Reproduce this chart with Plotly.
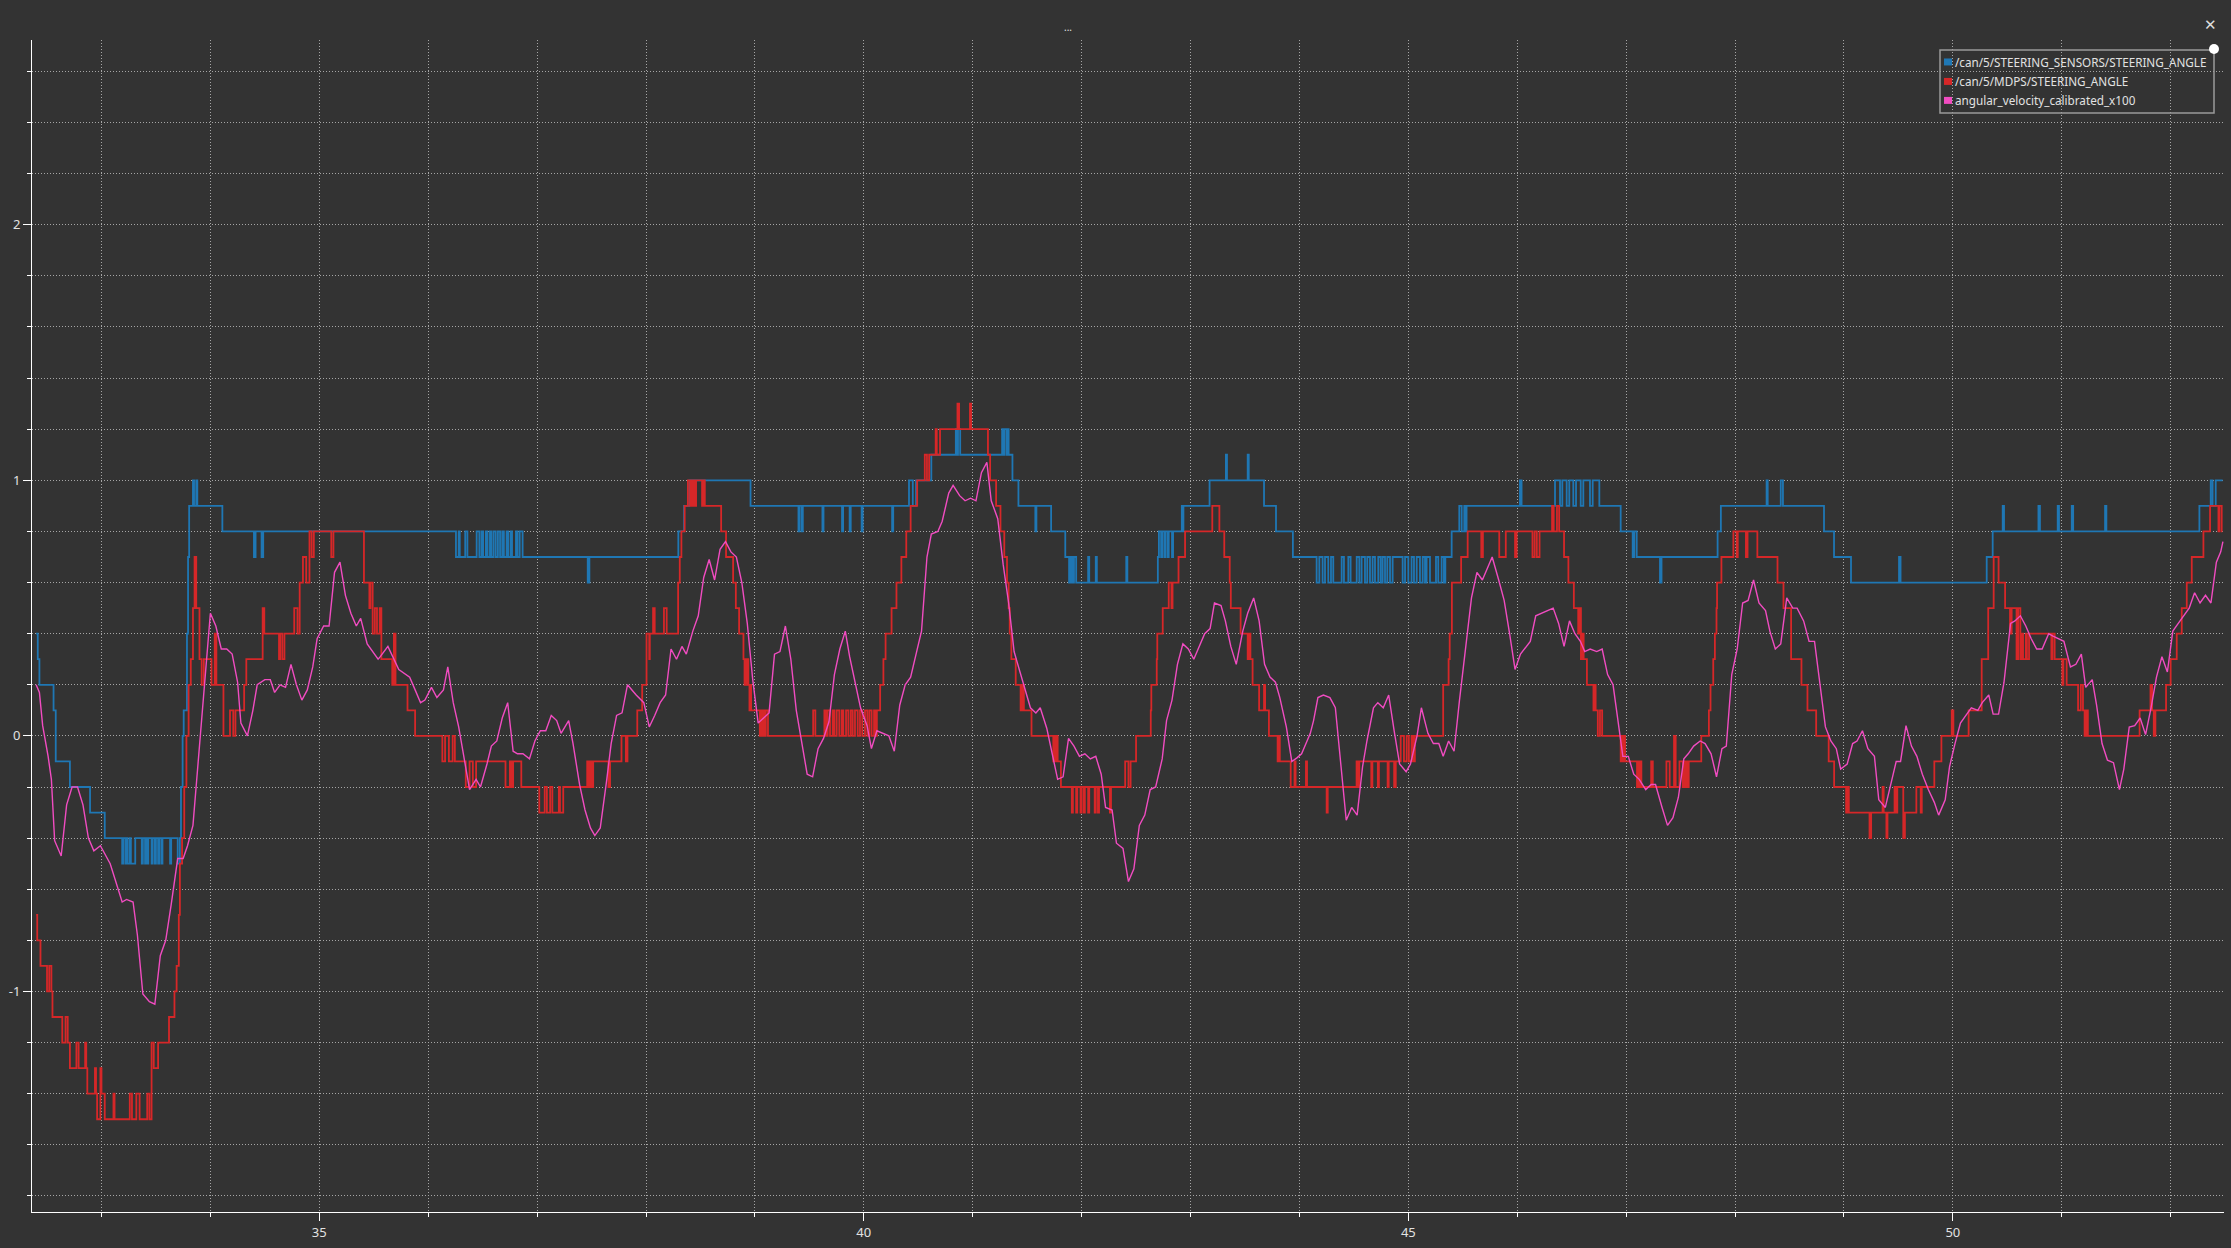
import plotly.graph_objects as go

# ---------------- data (time [s], value) ----------------
SERIES_NAMES = ["/can/5/STEERING_SENSORS/STEERING_ANGLE",
                "/can/5/MDPS/STEERING_ANGLE",
                "angular_velocity_calibrated_x100"]
SERIES_COLORS = ["#1f77b4", "#d62728", "#f14cc1"]

# step signal: (time of change, new value)
STEERING_SENSORS = [
    (32.40, 0.4), (32.415, 0.3), (32.43, 0.2), (32.56, 0.1), (32.58, -0.1), (32.71, -0.2), (32.895, -0.3), (33.03, -0.4),
    (33.19, -0.5), (33.20, -0.4), (33.22, -0.5), (33.23, -0.4), (33.24, -0.5), (33.26, -0.4), (33.27, -0.5), (33.31, -0.4),
    (33.37, -0.5), (33.38, -0.4), (33.40, -0.5), (33.41, -0.4), (33.42, -0.5), (33.43, -0.4), (33.46, -0.5), (33.47, -0.4),
    (33.49, -0.5), (33.50, -0.4), (33.52, -0.5), (33.53, -0.4), (33.55, -0.5), (33.56, -0.4), (33.63, -0.5), (33.64, -0.4),
    (33.70, -0.5), (33.72, -0.4), (33.73, -0.2), (33.745, 0.0), (33.755, 0.1), (33.785, 0.4), (33.795, 0.7), (33.805, 0.9),
    (33.84, 1.0), (33.85, 0.9), (33.87, 1.0), (33.88, 0.9), (34.11, 0.8), (34.40, 0.7), (34.415, 0.8), (34.47, 0.7), (34.485, 0.8),
    (36.255, 0.7), (36.28, 0.8), (36.29, 0.7), (36.34, 0.8), (36.36, 0.7), (36.445, 0.8), (36.47, 0.7), (36.49, 0.8),
    (36.505, 0.7), (36.53, 0.8), (36.545, 0.7), (36.567, 0.8), (36.58, 0.7), (36.60, 0.8), (36.62, 0.7), (36.64, 0.8),
    (36.66, 0.7), (36.68, 0.8), (36.695, 0.7), (36.72, 0.8), (36.735, 0.7), (36.757, 0.8), (36.77, 0.7), (36.806, 0.8),
    (36.82, 0.7), (36.84, 0.8), (36.867, 0.7), (37.465, 0.6), (37.48, 0.7), (38.297, 0.8), (38.35, 0.9), (38.397, 1.0),
    (38.96, 0.9), (39.40, 0.8), (39.41, 0.9), (39.43, 0.8), (39.44, 0.9), (39.62, 0.8), (39.63, 0.9), (39.80, 0.8), (39.81, 0.9),
    (39.87, 0.8), (39.88, 0.9), (39.98, 0.8), (39.99, 0.9), (40.26, 0.8), (40.27, 0.9), (40.415, 1.0), (40.45, 0.9), (40.48, 1.0),
    (40.62, 1.1), (40.845, 1.2), (40.86, 1.1), (40.865, 1.2), (40.885, 1.1), (41.27, 1.2), (41.28, 1.1), (41.29, 1.2),
    (41.31, 1.1), (41.32, 1.2), (41.33, 1.1), (41.365, 1.0), (41.42, 0.9), (41.575, 0.8), (41.585, 0.9), (41.72, 0.8),
    (41.85, 0.7), (41.885, 0.6), (41.895, 0.7), (41.90, 0.6), (41.91, 0.7), (41.92, 0.6), (41.93, 0.7), (41.95, 0.6),
    (42.06, 0.7), (42.07, 0.6), (42.13, 0.7), (42.14, 0.6), (42.41, 0.7), (42.42, 0.6), (42.70, 0.7), (42.71, 0.8),
    (42.73, 0.7), (42.74, 0.8), (42.76, 0.7), (42.77, 0.8), (42.79, 0.7), (42.80, 0.8), (42.83, 0.7), (42.84, 0.8),
    (42.92, 0.9), (42.925, 0.8), (42.935, 0.9), (43.175, 1.0), (43.325, 1.1), (43.335, 1.0), (43.525, 1.1), (43.535, 1.0),
    (43.675, 0.9), (43.785, 0.8), (43.94, 0.7),
    (44.158, 0.6), (44.183, 0.7), (44.213, 0.6), (44.235, 0.7), (44.265, 0.6), (44.29, 0.7), (44.311, 0.6), (44.388, 0.7),
    (44.409, 0.6), (44.449, 0.7), (44.47, 0.6), (44.526, 0.7), (44.55, 0.6), (44.571, 0.7), (44.602, 0.6), (44.623, 0.7),
    (44.648, 0.6), (44.672, 0.7), (44.694, 0.6), (44.724, 0.7), (44.746, 0.6), (44.764, 0.7), (44.786, 0.6), (44.807, 0.7),
    (44.832, 0.6), (44.856, 0.7), (44.948, 0.6), (44.97, 0.7), (45.00, 0.6), (45.03, 0.7), (45.052, 0.6), (45.077, 0.7),
    (45.107, 0.6), (45.132, 0.7), (45.153, 0.6), (45.168, 0.7), (45.199, 0.6), (45.254, 0.7), (45.275, 0.6), (45.306, 0.7),
    (45.327, 0.6), (45.34, 0.7), (45.398, 0.8), (45.468, 0.9), (45.49, 0.8), (45.514, 0.9), (45.52, 0.8), (45.535, 0.9),
    (46.025, 1.0), (46.04, 0.9), (46.347, 1.0), (46.393, 0.9), (46.414, 1.0), (46.454, 0.9), (46.478, 1.0), (46.515, 0.9),
    (46.54, 1.0), (46.583, 0.9), (46.607, 1.0), (46.668, 0.9), (46.693, 1.0), (46.754, 0.9), (46.95, 0.8), (47.06, 0.7),
    (47.075, 0.8), (47.097, 0.7), (47.311, 0.6), (47.325, 0.7), (47.84, 0.8), (47.87, 0.9), (48.29, 1.0), (48.30, 0.9),
    (48.42, 1.0), (48.44, 0.9), (48.817, 0.8), (48.909, 0.7), (49.065, 0.6), (49.506, 0.7), (49.52, 0.6), (50.311, 0.7),
    (50.366, 0.8), (50.458, 0.9), (50.47, 0.8), (50.786, 0.9), (50.80, 0.8), (50.963, 0.9), (50.975, 0.8), (51.092, 0.9),
    (51.105, 0.8), (51.398, 0.9), (51.41, 0.8), (52.264, 0.9), (52.368, 1.0), (52.385, 0.9), (52.414, 1.0), (52.478, 1.0),
]

# step signal: (time of change, new value)
MDPS_STEERING = [
    (32.40, -0.7), (32.41, -0.8), (32.44, -0.9), (32.50, -1.0), (32.52, -0.9), (32.54, -1.0), (32.55, -1.1), (32.64, -1.2),
    (32.67, -1.1), (32.69, -1.2), (32.71, -1.3), (32.77, -1.2), (32.79, -1.3), (32.85, -1.2), (32.86, -1.3), (32.87, -1.4),
    (32.94, -1.3), (32.95, -1.4), (32.96, -1.5), (32.99, -1.3), (33.00, -1.4), (33.03, -1.5), (33.11, -1.4), (33.12, -1.5),
    (33.26, -1.4), (33.28, -1.5), (33.32, -1.4), (33.35, -1.5), (33.42, -1.4), (33.44, -1.5), (33.46, -1.2), (33.48, -1.3),
    (33.52, -1.2), (33.62, -1.1), (33.67, -1.0), (33.69, -0.9), (33.71, -0.7), (33.72, -0.5), (33.74, -0.4), (33.76, -0.2),
    (33.78, 0.0), (33.80, 0.2), (33.82, 0.3), (33.84, 0.5), (33.855, 0.7), (33.87, 0.5), (33.90, 0.3), (33.92, 0.2),
    (33.94, 0.3), (34.01, 0.2), (34.04, 0.4), (34.055, 0.2), (34.12, 0.0), (34.18, 0.1), (34.21, 0.0), (34.23, 0.1),
    (34.31, 0.2), (34.33, 0.3), (34.48, 0.5), (34.495, 0.4), (34.63, 0.3), (34.64, 0.4), (34.66, 0.3), (34.68, 0.4),
    (34.77, 0.5), (34.80, 0.4), (34.82, 0.6), (34.85, 0.7), (34.88, 0.6), (34.91, 0.8), (34.93, 0.7), (34.95, 0.8),
    (35.11, 0.7), (35.13, 0.8), (35.41, 0.6), (35.46, 0.5), (35.47, 0.6), (35.49, 0.4), (35.51, 0.5), (35.53, 0.4),
    (35.555, 0.5), (35.57, 0.3), (35.67, 0.2), (35.685, 0.4), (35.70, 0.2), (35.81, 0.1), (35.88, 0.0), (36.13, -0.1),
    (36.155, 0.0), (36.19, -0.1), (36.225, 0.0), (36.245, -0.1), (36.345, -0.2), (36.38, -0.1), (36.41, -0.2), (36.44, -0.1),
    (36.71, -0.2), (36.75, -0.1), (36.765, -0.2), (36.78, -0.1), (36.855, -0.2), (37.02, -0.3), (37.07, -0.2), (37.09, -0.3),
    (37.12, -0.2), (37.14, -0.3), (37.20, -0.2), (37.21, -0.3), (37.24, -0.2), (37.46, -0.1), (37.475, -0.2), (37.49, -0.1),
    (37.50, -0.2), (37.515, -0.1), (37.655, -0.2), (37.67, -0.1), (37.775, 0.0), (37.815, -0.1), (37.83, 0.0), (37.92, 0.1),
    (37.965, 0.2), (38.005, 0.4), (38.03, 0.3), (38.035, 0.4), (38.065, 0.5), (38.08, 0.4), (38.165, 0.5), (38.19, 0.4),
    (38.295, 0.6), (38.31, 0.7), (38.325, 0.8), (38.355, 0.9), (38.385, 1.0), (38.405, 0.9), (38.415, 1.0), (38.425, 0.9),
    (38.435, 1.0), (38.45, 0.9), (38.46, 1.0), (38.515, 0.9), (38.525, 1.0), (38.54, 0.9), (38.69, 0.8), (38.735, 0.7),
    (38.80, 0.6), (38.825, 0.5), (38.855, 0.4), (38.895, 0.3), (38.905, 0.2), (38.91, 0.3), (38.915, 0.2), (38.93, 0.3),
    (38.94, 0.2), (38.95, 0.1), (38.96, 0.2), (38.965, 0.1), (39.045, 0.0), (39.06, 0.1), (39.07, 0.0), (39.08, 0.1),
    (39.09, 0.0), (39.10, 0.1), (39.12, 0.0), (39.535, 0.1), (39.555, 0.0),
    (39.638, 0.1), (39.653, 0.0), (39.668, 0.1), (39.69, 0.0), (39.714, 0.1), (39.73, 0.0), (39.751, 0.1), (39.775, 0.0),
    (39.797, 0.1), (39.812, 0.0), (39.837, 0.1), (39.858, 0.0), (39.88, 0.1), (39.898, 0.0), (39.919, 0.1), (39.944, 0.0),
    (39.965, 0.1), (39.986, 0.0), (40.011, 0.1), (40.032, 0.0), (40.051, 0.1), (40.072, 0.0), (40.094, 0.1), (40.109, 0.0),
    (40.12, 0.1), (40.15, 0.2), (40.18, 0.3), (40.20, 0.4), (40.255, 0.5), (40.30, 0.6), (40.345, 0.7), (40.39, 0.8),
    (40.43, 0.9), (40.49, 1.0), (40.56, 1.1), (40.58, 1.0), (40.60, 1.1), (40.66, 1.2), (40.67, 1.1), (40.70, 1.2),
    (40.86, 1.3), (40.875, 1.2), (40.975, 1.3), (40.985, 1.2), (41.14, 1.1), (41.16, 1.0), (41.215, 0.9), (41.255, 0.8),
    (41.29, 0.7), (41.315, 0.6), (41.33, 0.5), (41.34, 0.4), (41.355, 0.3), (41.395, 0.2), (41.44, 0.1), (41.455, 0.2),
    (41.47, 0.1), (41.54, 0.0), (41.74, -0.1), (41.75, 0.0), (41.76, -0.1), (41.77, 0.0), (41.78, -0.1), (41.81, -0.2),
    (41.91, -0.3), (41.92, -0.2), (41.95, -0.3), (41.96, -0.2), (41.99, -0.3), (42.00, -0.2), (42.02, -0.3), (42.03, -0.2),
    (42.06, -0.3), (42.07, -0.2), (42.12, -0.3), (42.13, -0.2), (42.15, -0.3), (42.16, -0.2), (42.26, -0.3), (42.27, -0.2),
    (42.40, -0.1), (42.43, -0.2), (42.45, -0.1), (42.50, 0.0), (42.635, 0.1), (42.64, 0.2), (42.69, 0.3), (42.695, 0.4),
    (42.745, 0.5), (42.80, 0.6), (42.825, 0.5), (42.835, 0.6), (42.89, 0.7), (42.95, 0.8), (43.20, 0.9), (43.265, 0.8),
    (43.31, 0.7), (43.36, 0.6), (43.37, 0.5), (43.46, 0.4), (43.525, 0.3), (43.535, 0.4), (43.55, 0.3), (43.57, 0.2),
    (43.63, 0.1), (43.675, 0.2), (43.685, 0.1), (43.72, 0.0), (43.80, -0.1), (43.81, 0.0), (43.82, -0.1), (43.92, -0.2),
    (43.955, -0.1), (43.965, -0.2), (44.06, -0.1), (44.07, -0.2), (44.25, -0.3), (44.26, -0.2), (44.525, -0.1), (44.54, -0.2),
    (44.55, -0.1), (44.66, -0.2), (44.67, -0.1), (44.72, -0.2), (44.73, -0.1), (44.81, -0.2), (44.82, -0.1), (44.87, -0.2),
    (44.885, -0.1), (44.93, 0.0), (44.96, -0.1), (44.985, 0.0), (45.005, -0.1), (45.03, 0.0), (45.045, -0.1), (45.06, 0.0),
    (45.32, 0.2), (45.37, 0.3), (45.38, 0.4), (45.40, 0.6), (45.485, 0.7), (45.545, 0.8), (45.67, 0.7), (45.685, 0.8),
    (45.835, 0.7), (45.895, 0.8), (45.98, 0.7), (45.995, 0.8), (46.14, 0.7), (46.16, 0.8), (46.18, 0.7), (46.205, 0.8),
    (46.32, 0.9), (46.335, 0.8), (46.365, 0.9), (46.385, 0.8), (46.43, 0.7), (46.47, 0.6), (46.52, 0.5), (46.56, 0.4),
    (46.575, 0.5), (46.585, 0.3), (46.60, 0.4), (46.61, 0.3), (46.64, 0.2), (46.70, 0.1), (46.71, 0.2), (46.72, 0.1),
    (46.74, 0.0), (46.76, 0.1), (46.78, 0.0), (46.95, -0.1), (46.96, 0.0), (46.975, -0.1), (46.985, 0.0), (46.99, -0.1),
    (47.10, -0.2), (47.115, -0.1), (47.125, -0.2), (47.13, -0.1), (47.14, -0.2), (47.23, -0.1), (47.245, -0.2), (47.37, -0.1),
    (47.40, -0.2), (47.44, 0.0), (47.455, -0.2), (47.49, -0.1), (47.52, -0.2), (47.53, -0.1), (47.545, -0.2), (47.555, -0.1),
    (47.565, -0.2), (47.575, -0.1), (47.69, 0.0), (47.76, 0.1), (47.775, 0.2), (47.80, 0.3), (47.815, 0.4), (47.83, 0.5),
    (47.835, 0.6), (47.875, 0.7), (47.985, 0.8), (48.015, 0.7), (48.025, 0.8), (48.10, 0.7), (48.115, 0.8), (48.205, 0.7),
    (48.39, 0.6), (48.445, 0.5), (48.515, 0.3), (48.61, 0.2), (48.665, 0.1), (48.745, 0.0), (48.86, -0.1), (48.91, -0.2),
    (49.02, -0.3), (49.03, -0.2), (49.045, -0.3), (49.235, -0.4), (49.25, -0.3), (49.355, -0.2), (49.365, -0.3), (49.39, -0.4),
    (49.40, -0.3), (49.465, -0.2), (49.475, -0.3), (49.49, -0.2), (49.545, -0.4), (49.56, -0.3), (49.665, -0.2), (49.705, -0.3),
    (49.715, -0.2), (49.83, -0.1), (49.895, 0.0), (49.99, 0.1), (50.005, 0.0), (50.145, 0.1), (50.265, 0.3), (50.325, 0.5),
    (50.375, 0.7), (50.42, 0.6), (50.48, 0.5), (50.525, 0.4), (50.54, 0.5), (50.585, 0.3), (50.60, 0.5), (50.62, 0.3),
    (50.635, 0.4), (50.645, 0.3), (50.67, 0.4), (50.68, 0.3), (50.70, 0.4), (50.905, 0.3), (50.915, 0.4), (50.935, 0.3),
    (51.005, 0.2), (51.015, 0.3), (51.045, 0.2), (51.15, 0.1), (51.175, 0.2), (51.195, 0.1), (51.21, 0.0), (51.225, 0.1),
    (51.24, 0.0), (51.715, 0.1), (51.815, 0.2), (51.83, 0.1), (51.845, 0.0), (51.86, 0.1), (51.958, 0.2), (52.00, 0.3),
    (52.056, 0.4), (52.102, 0.5), (52.148, 0.6), (52.194, 0.7), (52.301, 0.8), (52.362, 0.9), (52.439, 0.8), (52.448, 0.9),
    (52.469, 0.8), (52.475, 0.8),
]

# continuous signal: (time, value)
ANGULAR_VELOCITY = [
    (32.40, 0.20), (32.43, 0.17), (32.46, 0.04), (32.51, -0.08), (32.54, -0.17), (32.57, -0.41), (32.63, -0.47), (32.68, -0.27),
    (32.73, -0.20), (32.78, -0.20), (32.83, -0.27), (32.88, -0.40), (32.93, -0.45), (32.99, -0.43), (33.08, -0.50), (33.14, -0.58),
    (33.19, -0.65), (33.23, -0.64), (33.29, -0.65), (33.33, -0.78), (33.38, -1.01), (33.44, -1.04), (33.49, -1.05), (33.54, -0.86),
    (33.59, -0.80), (33.64, -0.66), (33.67, -0.57), (33.70, -0.48), (33.75, -0.48), (33.79, -0.43), (33.84, -0.35), (33.88, -0.15),
    (33.91, 0.0), (33.95, 0.21), (34.00, 0.48), (34.05, 0.43), (34.10, 0.34), (34.15, 0.34), (34.20, 0.32), (34.25, 0.21),
    (34.28, 0.05), (34.34, 0.0), (34.39, 0.10), (34.43, 0.20), (34.50, 0.22), (34.55, 0.22), (34.59, 0.17), (34.64, 0.20),
    (34.69, 0.19), (34.74, 0.28), (34.79, 0.20), (34.84, 0.14), (34.89, 0.18), (34.94, 0.27), (34.98, 0.38), (35.04, 0.43),
    (35.09, 0.43), (35.14, 0.64), (35.19, 0.68), (35.24, 0.55), (35.29, 0.48), (35.34, 0.43), (35.38, 0.46), (35.44, 0.36),
    (35.49, 0.33), (35.54, 0.30), (35.56, 0.31), (35.63, 0.35), (35.73, 0.26), (35.79, 0.24), (35.83, 0.23), (35.88, 0.18),
    (35.93, 0.13), (35.97, 0.14), (36.03, 0.19), (36.08, 0.15), (36.14, 0.18), (36.18, 0.27), (36.23, 0.13), (36.28, 0.035),
    (36.34, -0.12), (36.38, -0.21), (36.44, -0.17), (36.48, -0.20), (36.54, -0.11), (36.58, -0.04), (36.63, -0.02), (36.68, 0.07),
    (36.73, 0.13), (36.78, -0.06), (36.82, -0.07), (36.87, -0.07), (36.93, -0.09), (36.98, -0.02), (37.03, 0.02), (37.08, 0.02),
    (37.13, 0.08), (37.18, 0.06), (37.22, 0.01), (37.29, 0.06), (37.33, -0.03), (37.39, -0.19), (37.44, -0.29), (37.49, -0.36),
    (37.53, -0.39), (37.58, -0.36), (37.64, -0.17), (37.68, -0.03), (37.73, 0.08), (37.78, 0.09), (37.83, 0.20), (37.91, 0.16),
    (37.98, 0.13), (38.03, 0.035), (38.08, 0.08), (38.13, 0.13), (38.18, 0.16), (38.23, 0.34), (38.28, 0.30), (38.33, 0.35),
    (38.37, 0.32), (38.43, 0.41), (38.48, 0.47), (38.53, 0.62), (38.58, 0.69), (38.63, 0.61), (38.68, 0.73), (38.73, 0.76),
    (38.78, 0.72), (38.83, 0.70), (38.88, 0.60), (38.93, 0.44), (38.98, 0.22), (39.03, 0.05), (39.08, 0.07), (39.13, 0.09),
    (39.18, 0.32), (39.23, 0.33), (39.28, 0.43), (39.33, 0.30), (39.38, 0.10), (39.43, -0.02), (39.48, -0.15), (39.53, -0.16),
    (39.58, -0.05), (39.63, -0.01), (39.68, 0.055), (39.73, 0.24), (39.78, 0.34), (39.83, 0.41), (39.87, 0.31), (39.93, 0.19),
    (39.97, 0.11), (40.03, 0.04), (40.07, -0.05), (40.12, 0.02), (40.18, 0.01), (40.23, 0.0), (40.28, -0.06), (40.33, 0.12),
    (40.38, 0.20), (40.43, 0.23), (40.48, 0.32), (40.53, 0.41), (40.58, 0.70), (40.62, 0.79), (40.68, 0.80), (40.72, 0.84),
    (40.78, 0.95), (40.82, 0.98), (40.88, 0.94), (40.93, 0.92), (40.98, 0.93), (41.03, 0.92), (41.08, 1.03), (41.13, 1.07),
    (41.17, 0.92), (41.23, 0.85), (41.28, 0.67), (41.33, 0.52), (41.38, 0.33), (41.43, 0.26), (41.48, 0.19), (41.53, 0.11),
    (41.58, 0.09), (41.62, 0.11), (41.68, 0.03), (41.72, -0.05), (41.78, -0.17), (41.83, -0.16), (41.88, -0.01), (41.93, -0.04),
    (41.98, -0.08), (42.03, -0.07), (42.08, -0.09), (42.13, -0.08), (42.18, -0.15), (42.22, -0.28), (42.28, -0.29), (42.32, -0.42),
    (42.38, -0.44), (42.43, -0.57), (42.48, -0.52), (42.53, -0.35), (42.58, -0.31), (42.63, -0.21), (42.68, -0.20), (42.74, -0.09),
    (42.78, 0.06), (42.83, 0.14), (42.88, 0.28), (42.93, 0.36), (42.98, 0.34), (43.03, 0.30), (43.08, 0.35), (43.13, 0.40),
    (43.18, 0.42), (43.22, 0.52), (43.28, 0.51), (43.32, 0.45), (43.37, 0.35), (43.42, 0.28), (43.48, 0.41), (43.525, 0.48),
    (43.58, 0.54), (43.63, 0.45), (43.68, 0.28), (43.73, 0.23), (43.78, 0.21), (43.82, 0.15), (43.88, 0.035), (43.93, -0.10),
    (43.98, -0.085), (44.02, -0.07), (44.07, -0.02), (44.10, 0.01), (44.13, 0.06), (44.17, 0.15), (44.22, 0.16), (44.28, 0.15),
    (44.33, 0.11), (44.37, -0.06), (44.40, -0.20), (44.43, -0.33), (44.48, -0.28), (44.53, -0.31), (44.58, -0.12), (44.62, -0.02),
    (44.68, 0.11), (44.72, 0.13), (44.77, 0.11), (44.82, 0.16), (44.87, 0.02), (44.92, -0.11), (44.98, -0.14), (45.02, -0.11),
    (45.08, 0.0), (45.12, 0.11), (45.18, 0.01), (45.23, -0.03), (45.28, -0.03), (45.32, -0.08), (45.37, -0.02), (45.42, -0.06),
    (45.47, 0.14), (45.53, 0.35), (45.58, 0.54), (45.63, 0.64), (45.68, 0.61), (45.73, 0.66), (45.77, 0.70), (45.83, 0.61),
    (45.88, 0.53), (45.93, 0.40), (45.98, 0.26), (46.03, 0.32), (46.08, 0.35), (46.12, 0.37), (46.17, 0.47), (46.22, 0.48),
    (46.28, 0.49), (46.33, 0.50), (46.38, 0.44), (46.43, 0.35), (46.48, 0.45), (46.53, 0.40), (46.58, 0.37), (46.62, 0.33),
    (46.67, 0.34), (46.73, 0.33), (46.78, 0.34), (46.83, 0.24), (46.88, 0.20), (46.93, 0.055), (46.97, -0.08), (47.02, -0.08),
    (47.07, -0.15), (47.12, -0.17), (47.18, -0.21), (47.23, -0.19), (47.27, -0.19), (47.33, -0.28), (47.38, -0.35), (47.43, -0.32),
    (47.48, -0.24), (47.53, -0.09), (47.57, -0.07), (47.62, -0.04), (47.68, -0.02), (47.725, -0.03), (47.78, -0.07), (47.83, -0.16),
    (47.88, -0.05), (47.92, -0.04), (47.97, 0.24), (48.02, 0.34), (48.07, 0.52), (48.12, 0.53), (48.17, 0.61), (48.22, 0.52),
    (48.28, 0.49), (48.32, 0.41), (48.37, 0.34), (48.42, 0.36), (48.475, 0.54), (48.53, 0.50), (48.57, 0.50), (48.63, 0.45),
    (48.68, 0.37), (48.73, 0.37), (48.775, 0.22), (48.83, 0.035), (48.88, -0.02), (48.93, -0.05), (48.97, -0.13), (49.03, -0.11),
    (49.08, -0.03), (49.12, -0.02), (49.17, 0.02), (49.22, -0.05), (49.28, -0.08), (49.32, -0.25), (49.38, -0.28), (49.42, -0.21),
    (49.48, -0.10), (49.52, -0.10), (49.57, 0.04), (49.62, -0.04), (49.67, -0.08), (49.72, -0.15), (49.775, -0.21), (49.83, -0.26),
    (49.87, -0.31), (49.93, -0.25), (49.97, -0.12), (50.02, -0.03), (50.07, 0.05), (50.12, 0.08), (50.17, 0.11), (50.23, 0.10),
    (50.27, 0.13), (50.33, 0.16), (50.37, 0.085), (50.42, 0.085), (50.47, 0.21), (50.53, 0.44), (50.57, 0.45), (50.62, 0.47),
    (50.67, 0.43), (50.72, 0.38), (50.77, 0.34), (50.82, 0.34), (50.88, 0.40), (50.92, 0.39), (50.975, 0.38), (51.02, 0.37),
    (51.08, 0.27), (51.13, 0.28), (51.18, 0.32), (51.22, 0.19), (51.28, 0.22), (51.32, 0.12), (51.37, -0.03), (51.42, -0.095),
    (51.475, -0.105), (51.53, -0.21), (51.57, -0.13), (51.62, 0.035), (51.67, 0.04), (51.72, 0.07), (51.77, 0.005), (51.82, 0.11),
    (51.87, 0.23), (51.92, 0.31), (51.97, 0.25), (52.02, 0.41), (52.07, 0.44), (52.12, 0.47), (52.17, 0.50), (52.22, 0.56),
    (52.27, 0.52), (52.32, 0.55), (52.37, 0.52), (52.42, 0.68), (52.46, 0.72), (52.48, 0.76),
]

X_TICK_VALS = [35, 40, 45, 50]
X_TICK_TEXT = ["35", "40", "45", "50"]
Y_TICK_VALS = [-1, 0, 1, 2]
Y_TICK_TEXT = ["-1", "0", "1", "2"]
X_RANGE = [32.362, 52.49]
Y_RANGE = [-1.863, 2.723]
TITLE_TEXT = "..."

# ---------------- layout geometry (pixels) ----------------
W, H = 2231, 1248
L, T, R, B = 32, 40, 2224, 1214
PW, PH = R - L, B - T
BG = "#333333"
GRID = "#a6a6a6"
TXT = "#e2e2e2"
FONT = "Noto Sans"


def fx(px):
    return (px - L) / PW


def fy(py):
    return 1 - (py - T) / PH


fig = go.Figure()
series = [STEERING_SENSORS, MDPS_STEERING, ANGULAR_VELOCITY]
shapes_kind = ["hv", "hv", "linear"]
widths = [1.8, 1.8, 1.4]
for data, name, color, shp, wd in zip(series, SERIES_NAMES, SERIES_COLORS, shapes_kind, widths):
    xs = [p[0] for p in data]
    ys = [p[1] for p in data]
    fig.add_trace(go.Scatter(x=xs, y=ys, mode="lines", name=name, showlegend=False,
                             line=dict(color=color, width=wd, shape=shp), hoverinfo="skip"))

axis_common = dict(showline=True, linecolor="#ffffff", linewidth=1, mirror=False,
                   ticks="outside", ticklen=8, tickwidth=1, tickcolor="#ffffff",
                   showgrid=True, gridcolor=GRID, gridwidth=1, griddash="1px,2px",
                   zeroline=False, tickfont=dict(family=FONT, size=13, color=TXT))

fig.update_xaxes(range=X_RANGE, tickmode="array", tickvals=X_TICK_VALS, ticktext=X_TICK_TEXT,
                 minor=dict(tickmode="linear", tick0=0, dtick=1, ticks="outside", ticklen=4,
                            tickcolor="#ffffff", showgrid=True, gridcolor=GRID, griddash="1px,2px", gridwidth=1),
                 **axis_common)
fig.update_yaxes(range=Y_RANGE, tickmode="array", tickvals=Y_TICK_VALS, ticktext=Y_TICK_TEXT,
                 minor=dict(tickmode="linear", tick0=0, dtick=0.2, ticks="outside", ticklen=4,
                            tickcolor="#ffffff", showgrid=True, gridcolor=GRID, griddash="1px,2px", gridwidth=1),
                 **axis_common)

shapes = []
annotations = []

# legend box
shapes.append(dict(type="rect", xref="paper", yref="paper", x0=fx(1940), x1=fx(2214), y0=fy(113), y1=fy(50),
                   line=dict(color="#9a9a9a", width=1.5), fillcolor="rgba(0,0,0,0)", layer="above"))
row_y = [62, 81.5, 100.5]
for ry, name, color in zip(row_y, SERIES_NAMES, SERIES_COLORS):
    shapes.append(dict(type="rect", xref="paper", yref="paper", x0=fx(1944), x1=fx(1952),
                       y0=fy(ry + 3.5), y1=fy(ry - 3.5), line=dict(width=0), fillcolor=color, layer="above"))
    annotations.append(dict(xref="paper", yref="paper", x=fx(1953), y=fy(ry), text=name, showarrow=False,
                            xanchor="left", yanchor="middle", font=dict(family=FONT, size=11.7, color=TXT)))

# white handle dot at legend corner
shapes.append(dict(type="circle", xref="paper", yref="paper", x0=fx(2209), x1=fx(2219), y0=fy(54), y1=fy(44),
                   line=dict(width=0), fillcolor="#ffffff", layer="above"))

# title / close glyph
annotations.append(dict(xref="paper", yref="paper", x=fx(1068), y=fy(27), text=TITLE_TEXT, showarrow=False,
                        xanchor="center", yanchor="middle", font=dict(family=FONT, size=10, color=TXT)))
annotations.append(dict(xref="paper", yref="paper", x=fx(2210), y=fy(25), text="✕", showarrow=False,
                        xanchor="center", yanchor="middle", font=dict(family="DejaVu Sans", size=15, color="#dddddd")))

fig.update_layout(width=W, height=H, autosize=False,
                  margin=dict(l=L, r=W - R, t=T, b=H - B, pad=0),
                  paper_bgcolor=BG, plot_bgcolor=BG, showlegend=False,
                  font=dict(family=FONT, color=TXT),
                  shapes=shapes, annotations=annotations)

PAGE_FIX = ("document.body.style.margin='0';document.body.style.padding='0';"
            "document.body.style.background='#333333';document.body.style.overflow='hidden';"
            "document.documentElement.style.background='#333333';")

fig.write_html("out.html", config={"displayModeBar": False}, post_script=PAGE_FIX)
